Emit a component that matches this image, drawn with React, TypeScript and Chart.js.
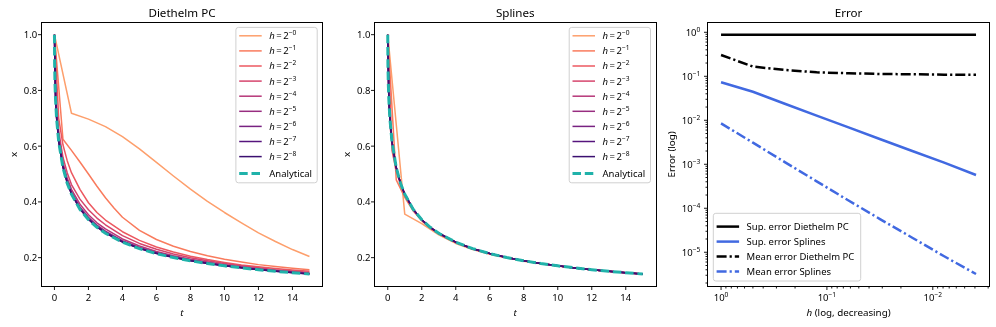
import React, { useEffect, useRef } from 'react';
import { Chart, registerables } from 'chart.js';

Chart.register(...registerables);

// ---------------- Data ----------------
const H_EXPONENTS = ['0', '1', '2', '3', '4', '5', '6', '7', '8'];
const H_VALUES = [1, 0.5, 0.25, 0.125, 0.0625, 0.03125, 0.015625, 0.0078125, 0.00390625];
const SERIES_COLORS = ['#fd9f6c', '#f97b5d', '#ec5860', '#d6456c', '#b73779', '#982d80', '#782281', '#56147d', '#3b0f70'];
const ANALYTICAL_COLOR = '#20b2aa';

const T_INT = [0, 1, 2, 3, 4, 5, 6, 7, 8, 9, 10, 11, 12, 13, 14, 15];
const T_HALF = [0, 0.5, 1, 1.5, 2, 2.5, 3, 3.5, 4, 5, 6, 7, 8, 9, 10, 11, 12, 13, 14, 15];
const T_QUARTER = [0, 0.25, 0.5, 0.75, 1, 1.5, 2, 2.5, 3, 4, 5, 6, 7, 8, 9, 10, 11, 12, 13, 14, 15];
const T_EIGHTH = [0, 0.125, 0.25, 0.5, 0.75, 1, 1.5, 2, 2.5, 3, 4, 5, 6, 7, 8, 9, 10, 11, 12, 13, 14, 15];
const T_FINE = [0, 0.0625, 0.125, 0.25, 0.5, 0.75, 1, 1.5, 2, 2.5, 3, 4, 5, 6, 7, 8, 9, 10, 11, 12, 13, 14, 15];
const T_ANALYTIC = [0, 0.01, 0.03, 0.0625, 0.125, 0.25, 0.5, 0.75, 1, 1.5, 2, 2.5, 3, 4, 5, 6, 7, 8, 9, 10, 11, 12, 13, 14, 15];

const X_ANALYTIC = [1.0, 0.8965, 0.8311, 0.7704, 0.6992, 0.6157, 0.5232, 0.4672, 0.4276, 0.3732, 0.3362, 0.3088, 0.2875, 0.2554, 0.2322, 0.2146, 0.2005, 0.1888, 0.179, 0.1706, 0.1633, 0.1568, 0.1511, 0.1459, 0.1412];

// Diethelm predictor-corrector
const DPC_H0 = [1.0, 0.718, 0.697, 0.67, 0.634, 0.59, 0.542, 0.493, 0.446, 0.402, 0.362, 0.325, 0.289, 0.258, 0.229, 0.204];
const DPC_H1 = [1.0, 0.625, 0.585, 0.543, 0.5, 0.456, 0.415, 0.378, 0.345, 0.298, 0.265, 0.241, 0.222, 0.207, 0.194, 0.184, 0.175, 0.168, 0.162, 0.157];
const DPC_H2 = [1.0, 0.7, 0.605, 0.548, 0.505, 0.445, 0.397, 0.362, 0.335, 0.293, 0.262, 0.238, 0.22, 0.205, 0.193, 0.183, 0.174, 0.167, 0.161, 0.156, 0.151];
const DPC_H3 = [1.0, 0.74, 0.655, 0.56, 0.505, 0.462, 0.41, 0.372, 0.342, 0.318, 0.279, 0.251, 0.23, 0.213, 0.2, 0.189, 0.179, 0.171, 0.164, 0.157, 0.152, 0.147];
const DPC_H4 = [1.0, 0.8, 0.725, 0.637, 0.541, 0.486, 0.445, 0.392, 0.354, 0.325, 0.303, 0.267, 0.2416, 0.2223, 0.2068, 0.1944, 0.184, 0.1748, 0.1672, 0.1604, 0.1541, 0.149, 0.1441];
const DPC_H5 = [1.0, 0.785, 0.712, 0.626, 0.532, 0.477, 0.436, 0.382, 0.345, 0.317, 0.295, 0.261, 0.2369, 0.2185, 0.2036, 0.1916, 0.1815, 0.1727, 0.1652, 0.1586, 0.1526, 0.1474, 0.1427];
const DPC_H6 = [1.0, 0.778, 0.705, 0.621, 0.5275, 0.4715, 0.4317, 0.3776, 0.3405, 0.3128, 0.2912, 0.2582, 0.2345, 0.2164, 0.202, 0.1901, 0.1802, 0.1716, 0.1642, 0.1577, 0.1518, 0.1466, 0.1419];
const DPC_H7 = [1.0, 0.774, 0.702, 0.618, 0.5254, 0.4693, 0.4296, 0.3754, 0.3384, 0.3108, 0.2893, 0.2568, 0.2333, 0.2155, 0.2013, 0.1895, 0.1796, 0.1711, 0.1638, 0.1572, 0.1515, 0.1463, 0.1415];
const DPC_H8 = [1.0, 0.772, 0.7, 0.6165, 0.5243, 0.4682, 0.4286, 0.3743, 0.3373, 0.3098, 0.2884, 0.2561, 0.2328, 0.2151, 0.2009, 0.1891, 0.1793, 0.1709, 0.1635, 0.157, 0.1513, 0.1461, 0.1414];

// Splines
const SPL_H0 = [1.0, 0.356, 0.322, 0.282, 0.251, 0.229, 0.2125, 0.199, 0.1875, 0.178, 0.1698, 0.1626, 0.1563, 0.1507, 0.1456, 0.141];
const SPL_H1 = [1.0, 0.479, 0.416, 0.367, 0.332, 0.306, 0.285, 0.268, 0.2538, 0.2312, 0.2138, 0.1999, 0.1883, 0.1786, 0.1702, 0.163, 0.1565, 0.1508, 0.1457, 0.141];
const SPL_H2 = [1.0, 0.585, 0.51, 0.461, 0.424, 0.371, 0.335, 0.308, 0.2868, 0.255, 0.2319, 0.2144, 0.2003, 0.1887, 0.1789, 0.1705, 0.1632, 0.1567, 0.151, 0.1458, 0.1411];
const SPL_H3 = [1.0, 0.68, 0.608, 0.5205, 0.4658, 0.4268, 0.3728, 0.3359, 0.3086, 0.2873, 0.2553, 0.2321, 0.2145, 0.2004, 0.1888, 0.179, 0.1706, 0.1633, 0.1568, 0.1511, 0.1459, 0.1412];
const SPL_H4 = [1.0, 0.762, 0.697, 0.6145, 0.5228, 0.467, 0.4275, 0.3731, 0.3362, 0.3088, 0.2875, 0.2554, 0.2322, 0.2146, 0.2005, 0.1888, 0.179, 0.1706, 0.1633, 0.1568, 0.1511, 0.1459, 0.1412];
const SPL_H5 = [1.0, 0.768, 0.6985, 0.6153, 0.5231, 0.4671, 0.4276, 0.3732, 0.3362, 0.3088, 0.2875, 0.2554, 0.2322, 0.2146, 0.2005, 0.1888, 0.179, 0.1706, 0.1633, 0.1568, 0.1511, 0.1459, 0.1412];
const SPL_H6 = [1.0, 0.7695, 0.699, 0.6156, 0.5232, 0.4672, 0.4276, 0.3732, 0.3362, 0.3088, 0.2875, 0.2554, 0.2322, 0.2146, 0.2005, 0.1888, 0.179, 0.1706, 0.1633, 0.1568, 0.1511, 0.1459, 0.1412];
const SPL_H7 = [1.0, 0.7701, 0.6991, 0.6157, 0.5232, 0.4672, 0.4276, 0.3732, 0.3362, 0.3088, 0.2875, 0.2554, 0.2322, 0.2146, 0.2005, 0.1888, 0.179, 0.1706, 0.1633, 0.1568, 0.1511, 0.1459, 0.1412];
const SPL_H8 = [1.0, 0.7703, 0.6992, 0.6157, 0.5232, 0.4672, 0.4276, 0.3732, 0.3362, 0.3088, 0.2875, 0.2554, 0.2322, 0.2146, 0.2005, 0.1888, 0.179, 0.1706, 0.1633, 0.1568, 0.1511, 0.1459, 0.1412];

// Errors vs h
const ERR_SUP_DPC = [0.883, 0.883, 0.883, 0.883, 0.883, 0.883, 0.883, 0.883, 0.883];
const ERR_SUP_SPL = [0.0729, 0.0445, 0.0238, 0.0128, 0.0069, 0.0037, 0.002, 0.00109, 0.00057];
const ERR_MEAN_DPC = [0.305, 0.166, 0.139, 0.123, 0.117, 0.113, 0.111, 0.109, 0.108];
const ERR_MEAN_SPL = [0.0085, 0.0031, 0.00112, 0.00041, 0.00015, 0.000056, 0.0000214, 0.0000081, 0.0000032];

// Ticks
const T_TICKS = [0, 2, 4, 6, 8, 10, 12, 14];
const T_TICK_LABELS = ['0', '2', '4', '6', '8', '10', '12', '14'];
const X_TICKS = [0.2, 0.4, 0.6, 0.8, 1.0];
const X_TICK_LABELS = ['0.2', '0.4', '0.6', '0.8', '1.0'];
const ERR_EXPONENTS = [0, -1, -2, -3, -4, -5];
const H_TICK_EXPONENTS = [0, -1, -2];

// ---------------- Layout / style ----------------
const W = 996;
const H = 327;
const AREA_TOP = 22.7;
const AREA_BOTTOM = 286;
const AREA_W = 280.5;
const FONT = '"Noto Sans", "DejaVu Sans", sans-serif';
const TICK_SIZE = 9.5;
const LABEL_SIZE = 9.8;
const TITLE_SIZE = 11.6;

type Part = { t: string; it?: boolean; sup?: boolean };

function partFont(p: Part, size: number) {
  const s = p.sup ? size * 0.7 : size;
  return `${p.it ? 'italic ' : ''}${s}px ${FONT}`;
}
function measureParts(ctx: CanvasRenderingContext2D, parts: Part[], size: number) {
  let w = 0;
  for (const p of parts) {
    ctx.font = partFont(p, size);
    w += ctx.measureText(p.t).width;
  }
  return w;
}
function drawParts(ctx: CanvasRenderingContext2D, parts: Part[], x: number, cy: number, size: number, align: 'left' | 'center' | 'right') {
  const w = measureParts(ctx, parts, size);
  let cx = align === 'left' ? x : align === 'center' ? x - w / 2 : x - w;
  const base = cy + size * 0.36;
  ctx.textAlign = 'left';
  ctx.textBaseline = 'alphabetic';
  for (const p of parts) {
    ctx.font = partFont(p, size);
    ctx.fillText(p.t, cx, p.sup ? base - size * 0.42 : base);
    cx += ctx.measureText(p.t).width;
  }
}

type Tick = { value: number; parts: Part[] };
type LegendItem = { parts: Part[]; color: string; width: number; dash?: number[] };
type LegendSpec = {
  corner: 'ur' | 'll';
  width: number;
  height: number;
  rows: number[];
  items: LegendItem[];
};
type PanelSpec = {
  canvasLeft: number;
  canvasWidth: number;
  areaLeft: number;
  title: string;
  xLabel: Part[];
  yLabel: Part[];
  yLabelX: number;
  xType: 'linear' | 'logarithmic';
  yType: 'linear' | 'logarithmic';
  xMin: number;
  xMax: number;
  yMin: number;
  yMax: number;
  xReverse?: boolean;
  xTicks: Tick[];
  yTicks: Tick[];
  xMinor: number[];
  yMinor: number[];
  yLabelPad: number;
  datasets: any[];
  legend: LegendSpec;
};

function pts(ts: number[], vs: number[]) {
  return ts.map((t, i) => ({ x: t, y: vs[i] }));
}

function logMinor(min: number, max: number) {
  const out: number[] = [];
  for (let e = Math.floor(Math.log10(min)); e <= Math.ceil(Math.log10(max)); e++) {
    for (let m = 2; m <= 9; m++) {
      const v = m * Math.pow(10, e);
      if (v >= min && v <= max) out.push(v);
    }
  }
  return out;
}

function hParts(k: string): Part[] {
  return [
    { t: 'h', it: true },
    { t: '\u2009=\u20092' },
    { t: '\u2212' + k, sup: true },
  ];
}

function expParts(e: number): Part[] {
  return [
    { t: '10' },
    { t: (e < 0 ? '\u2212' : '') + Math.abs(e), sup: true },
  ];
}

const MATH_ROWS = [8.4, 23.5, 38.6, 53.7, 68.8, 83.9, 99.0, 114.1, 129.2, 146.0];

function solutionPanel(title: string, series: { t: number[]; v: number[] }[], canvasLeft: number, areaLeft: number): PanelSpec {
  const datasets: any[] = series.map((s, i) => ({
    data: pts(s.t, s.v),
    borderColor: SERIES_COLORS[i],
    borderWidth: 1.5,
    pointRadius: 0,
    tension: 0,
    fill: false,
    borderJoinStyle: 'round',
    order: 20 - i,
  }));
  datasets.push({
    data: pts(T_ANALYTIC, X_ANALYTIC),
    borderColor: ANALYTICAL_COLOR,
    borderWidth: 3,
    borderDash: [8.5, 3.8],
    borderCapStyle: 'butt',
    pointRadius: 0,
    tension: 0,
    fill: false,
    order: 1,
  });
  const items: LegendItem[] = H_EXPONENTS.map((k, i) => ({ parts: hParts(k), color: SERIES_COLORS[i], width: 1.5 }));
  items.push({ parts: [{ t: 'Analytical' }], color: ANALYTICAL_COLOR, width: 3, dash: [8.5, 3.8] });
  return {
    canvasLeft,
    canvasWidth: 333,
    areaLeft,
    title,
    xLabel: [{ t: 't', it: true }],
    yLabel: [{ t: 'x' }],
    yLabelX: 13.6,
    xType: 'linear',
    yType: 'linear',
    xMin: -0.75,
    xMax: 15.75,
    yMin: 0.0983,
    yMax: 1.0429,
    xTicks: T_TICKS.map((v, i) => ({ value: v, parts: [{ t: T_TICK_LABELS[i] }] })),
    yTicks: X_TICKS.map((v, i) => ({ value: v, parts: [{ t: X_TICK_LABELS[i] }] })),
    xMinor: [],
    yMinor: [],
    yLabelPad: 4.5,
    datasets,
    legend: { corner: 'ur', width: 81.3, height: 155.4, rows: MATH_ROWS, items },
  };
}

const Y3_MIN = 1.71e-6;
const Y3_MAX = 1.652;
const X3_MIN = 0.002958;
const X3_MAX = 1.3195;

const PANELS: PanelSpec[] = [
  solutionPanel(
    'Diethelm PC',
    [
      { t: T_INT, v: DPC_H0 },
      { t: T_HALF, v: DPC_H1 },
      { t: T_QUARTER, v: DPC_H2 },
      { t: T_EIGHTH, v: DPC_H3 },
      { t: T_FINE, v: DPC_H4 },
      { t: T_FINE, v: DPC_H5 },
      { t: T_FINE, v: DPC_H6 },
      { t: T_FINE, v: DPC_H7 },
      { t: T_FINE, v: DPC_H8 },
    ],
    0,
    41.7
  ),
  solutionPanel(
    'Splines',
    [
      { t: T_INT, v: SPL_H0 },
      { t: T_HALF, v: SPL_H1 },
      { t: T_QUARTER, v: SPL_H2 },
      { t: T_EIGHTH, v: SPL_H3 },
      { t: T_FINE, v: SPL_H4 },
      { t: T_FINE, v: SPL_H5 },
      { t: T_FINE, v: SPL_H6 },
      { t: T_FINE, v: SPL_H7 },
      { t: T_FINE, v: SPL_H8 },
    ],
    333,
    42.0
  ),
  {
    canvasLeft: 667,
    canvasWidth: 329,
    areaLeft: 41.3,
    title: 'Error',
    xLabel: [{ t: 'h', it: true }, { t: ' (log, decreasing)' }],
    yLabel: [{ t: 'Error (log)' }],
    yLabelX: 4.2,
    xType: 'logarithmic',
    yType: 'logarithmic',
    xMin: X3_MIN,
    xMax: X3_MAX,
    xReverse: true,
    yMin: Y3_MIN,
    yMax: Y3_MAX,
    xTicks: H_TICK_EXPONENTS.map((e) => ({ value: Math.pow(10, e), parts: expParts(e) })),
    yTicks: ERR_EXPONENTS.map((e) => ({ value: Math.pow(10, e), parts: expParts(e) })),
    xMinor: logMinor(X3_MIN, X3_MAX),
    yMinor: logMinor(Y3_MIN, Y3_MAX),
    yLabelPad: 8,
    datasets: [
      { data: pts(H_VALUES, ERR_SUP_DPC), borderColor: '#000000', borderWidth: 2.5, pointRadius: 0, tension: 0, fill: false, order: 4 },
      { data: pts(H_VALUES, ERR_SUP_SPL), borderColor: '#4169e1', borderWidth: 2.5, pointRadius: 0, tension: 0, fill: false, order: 3 },
      { data: pts(H_VALUES, ERR_MEAN_DPC), borderColor: '#000000', borderWidth: 2.5, borderDash: [10, 3, 2.2, 3], borderCapStyle: 'butt', pointRadius: 0, tension: 0, fill: false, order: 2 },
      { data: pts(H_VALUES, ERR_MEAN_SPL), borderColor: '#4169e1', borderWidth: 2.5, borderDash: [10, 3, 2.2, 3], borderCapStyle: 'butt', pointRadius: 0, tension: 0, fill: false, order: 1 },
    ],
    legend: {
      corner: 'll',
      width: 147.4,
      height: 67.7,
      rows: [13.3, 28.3, 43.3, 58.3],
      items: [
        { parts: [{ t: 'Sup. error Diethelm PC' }], color: '#000000', width: 2.5 },
        { parts: [{ t: 'Sup. error Splines' }], color: '#4169e1', width: 2.5 },
        { parts: [{ t: 'Mean error Diethelm PC' }], color: '#000000', width: 2.5, dash: [10, 3, 2.2, 3] },
        { parts: [{ t: 'Mean error Splines' }], color: '#4169e1', width: 2.5, dash: [10, 3, 2.2, 3] },
      ],
    },
  },
];

function roundRectPath(ctx: CanvasRenderingContext2D, x: number, y: number, w: number, h: number, r: number) {
  ctx.beginPath();
  ctx.moveTo(x + r, y);
  ctx.lineTo(x + w - r, y);
  ctx.arcTo(x + w, y, x + w, y + r, r);
  ctx.lineTo(x + w, y + h - r);
  ctx.arcTo(x + w, y + h, x + w - r, y + h, r);
  ctx.lineTo(x + r, y + h);
  ctx.arcTo(x, y + h, x, y + h - r, r);
  ctx.lineTo(x, y + r);
  ctx.arcTo(x, y, x + r, y, r);
  ctx.closePath();
}

function decorPlugin(spec: PanelSpec) {
  return {
    id: 'decor',
    afterDraw(chart: any) {
      const ctx: CanvasRenderingContext2D = chart.ctx;
      const a = chart.chartArea;
      const xs = chart.scales.x;
      const ys = chart.scales.y;
      ctx.save();
      ctx.fillStyle = '#000000';
      ctx.strokeStyle = '#000000';

      // spines
      ctx.lineWidth = 1;
      const L = Math.round(a.left) - 0.5;
      const R = Math.round(a.right) + 0.5;
      const T = Math.round(a.top) - 0.5;
      const B = Math.round(a.bottom) + 0.5;
      ctx.strokeRect(L, T, R - L, B - T);

      // ticks
      ctx.lineWidth = 0.9;
      ctx.beginPath();
      for (const tk of spec.xTicks) {
        const px = xs.getPixelForValue(tk.value);
        ctx.moveTo(px, B);
        ctx.lineTo(px, B + 3.5);
      }
      for (const v of spec.xMinor) {
        const px = xs.getPixelForValue(v);
        ctx.moveTo(px, B);
        ctx.lineTo(px, B + 2);
      }
      for (const tk of spec.yTicks) {
        const py = ys.getPixelForValue(tk.value);
        ctx.moveTo(L, py);
        ctx.lineTo(L - 3.5, py);
      }
      for (const v of spec.yMinor) {
        const py = ys.getPixelForValue(v);
        ctx.moveTo(L, py);
        ctx.lineTo(L - 2, py);
      }
      ctx.stroke();

      // tick labels
      for (const tk of spec.xTicks) {
        drawParts(ctx, tk.parts, xs.getPixelForValue(tk.value), a.bottom + 11.5, TICK_SIZE, 'center');
      }
      for (const tk of spec.yTicks) {
        drawParts(ctx, tk.parts, a.left - spec.yLabelPad, ys.getPixelForValue(tk.value), TICK_SIZE, 'right');
      }

      // axis labels
      const midX = (a.left + a.right) / 2;
      const midY = (a.top + a.bottom) / 2;
      drawParts(ctx, spec.xLabel, midX, 312.5, LABEL_SIZE, 'center');
      ctx.save();
      ctx.translate(spec.yLabelX, midY);
      ctx.rotate(-Math.PI / 2);
      drawParts(ctx, spec.yLabel, 0, 0, LABEL_SIZE, 'center');
      ctx.restore();

      // title
      drawParts(ctx, [{ t: spec.title }], midX, 12.7, TITLE_SIZE, 'center');

      // legend
      const lg = spec.legend;
      const bx = lg.corner === 'ur' ? a.right - 5 - lg.width : a.left + 5;
      const by = lg.corner === 'ur' ? a.top + 4.7 : a.bottom - 5 - lg.height;
      roundRectPath(ctx, bx, by, lg.width, lg.height, 2.5);
      ctx.fillStyle = 'rgba(255,255,255,0.8)';
      ctx.fill();
      ctx.strokeStyle = '#d0d0d0';
      ctx.lineWidth = 1;
      ctx.stroke();
      lg.items.forEach((it, i) => {
        const cy = by + lg.rows[i];
        ctx.beginPath();
        ctx.strokeStyle = it.color;
        ctx.lineWidth = it.width;
        ctx.lineCap = 'butt';
        ctx.setLineDash(it.dash || []);
        ctx.moveTo(bx + 3.3, cy);
        ctx.lineTo(bx + 25.8, cy);
        ctx.stroke();
        ctx.setLineDash([]);
        ctx.fillStyle = '#000000';
        drawParts(ctx, it.parts, bx + 33.3, cy, TICK_SIZE, 'left');
      });
      ctx.restore();
    },
  };
}

function Panel({ spec }: { spec: PanelSpec }) {
  const ref = useRef<HTMLCanvasElement>(null);
  useEffect(() => {
    const canvas = ref.current;
    if (!canvas) return;
    const chart = new Chart(canvas, {
      type: 'line',
      data: { datasets: spec.datasets },
      options: {
        animation: false,
        responsive: false,
        devicePixelRatio: 1,
        events: [],
        layout: {
          padding: {
            left: 0,
            top: AREA_TOP,
            right: spec.canvasWidth - spec.areaLeft - AREA_W,
            bottom: 0,
          },
        },
        plugins: {
          legend: { display: false },
          tooltip: { enabled: false },
          title: { display: false },
        },
        scales: {
          x: {
            type: spec.xType,
            min: spec.xMin,
            max: spec.xMax,
            reverse: !!spec.xReverse,
            ticks: { display: false },
            grid: { display: false },
            border: { display: false },
            afterFit: (s: any) => {
              s.height = H - AREA_BOTTOM;
            },
          },
          y: {
            type: spec.yType,
            min: spec.yMin,
            max: spec.yMax,
            ticks: { display: false },
            grid: { display: false },
            border: { display: false },
            afterFit: (s: any) => {
              s.width = spec.areaLeft;
            },
          },
        },
      } as any,
      plugins: [decorPlugin(spec)],
    });
    return () => chart.destroy();
  }, [spec]);
  return (
    <canvas
      ref={ref}
      width={spec.canvasWidth}
      height={H}
      style={{ position: 'absolute', left: spec.canvasLeft, top: 0, width: spec.canvasWidth, height: H }}
    />
  );
}

export default function App() {
  return (
    <div style={{ position: 'fixed', left: 0, top: 0, width: W, height: H, background: '#ffffff', overflow: 'hidden' }}>
      {PANELS.map((p, i) => (
        <Panel key={i} spec={p} />
      ))}
    </div>
  );
}
